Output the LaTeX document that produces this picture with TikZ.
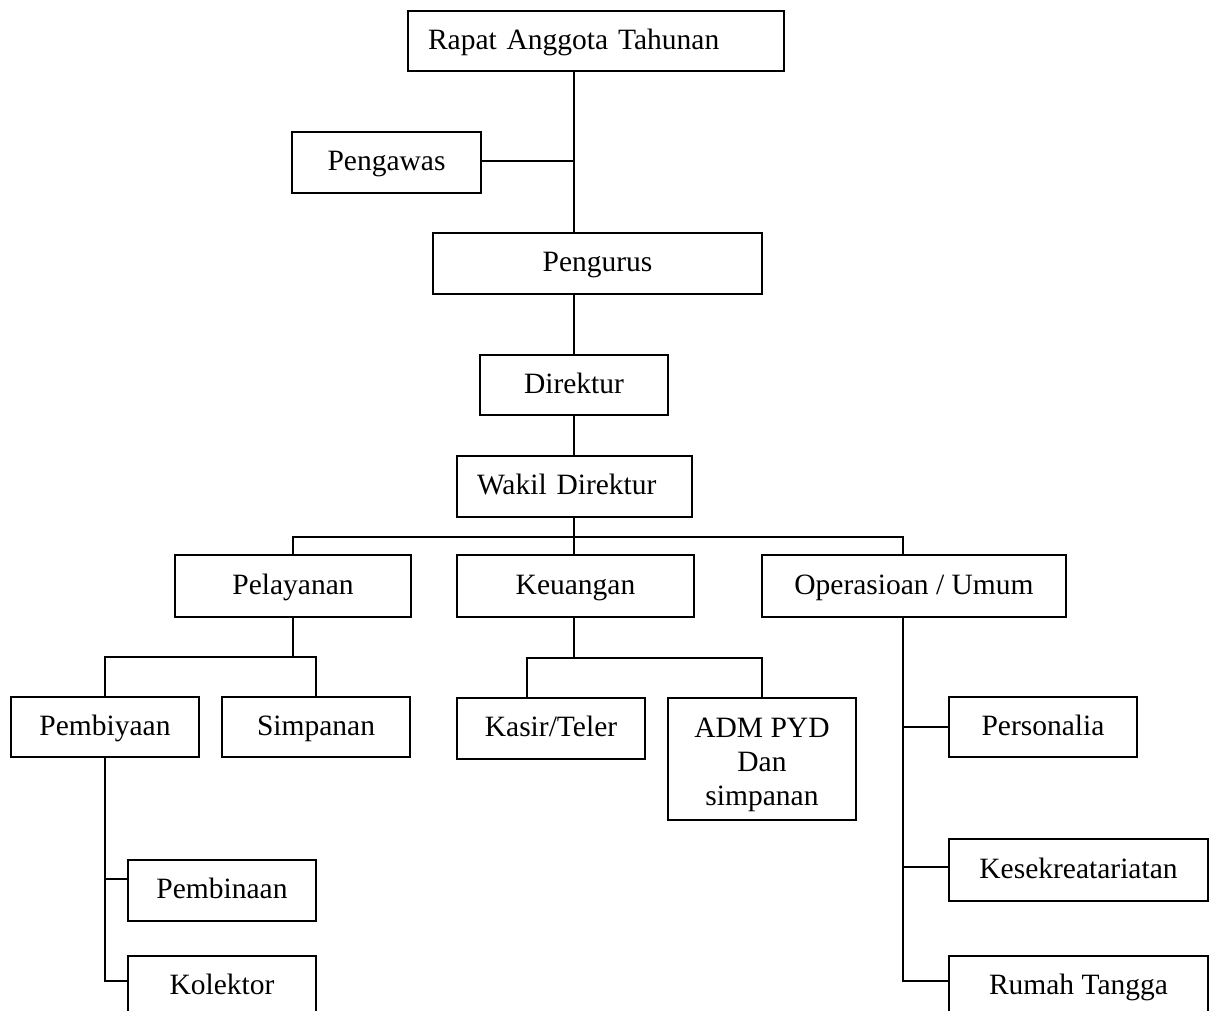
\documentclass[tikz,border=0pt]{standalone}
\usepackage{fontspec}
\setmainfont{Liberation Serif}
\begin{document}
\begin{tikzpicture}[x=1pt,y=1pt,
  mbox/.style={draw, line width=1.3pt, inner sep=0pt, align=center, font=\fontsize{29.5}{34}\selectfont},
  box/.style={mbox, text height=21.5pt, text depth=5pt},
  lbox/.style={box, align=left, inner xsep=20pt, inner ysep=0pt},
  link/.style={line width=1.3pt}]
\useasboundingbox (0,0) rectangle (1210,-1010);
\clip (0,0) rectangle (1210,-1010);

\node[lbox, text width=336pt, minimum height=60pt] (rat) at (596,-41) {Rapat Anggota Tahunan};
\node[box, minimum width=189pt, minimum height=61pt] (pengawas) at (386.5,-162.5) {Pengawas};
\node[box, minimum width=329pt, minimum height=61pt] (pengurus) at (597.5,-263.5) {Pengurus};
\node[box, minimum width=188pt, minimum height=60pt] (direktur) at (574,-385) {Direktur};
\node[lbox, text width=195pt, minimum height=61pt] (wakil) at (574.5,-486.5) {Wakil Direktur};
\node[box, minimum width=236pt, minimum height=62pt] (pelayanan) at (293,-586) {Pelayanan};
\node[box, minimum width=237pt, minimum height=62pt] (keuangan) at (575.5,-586) {Keuangan};
\node[box, minimum width=304pt, minimum height=62pt] (operasi) at (914,-586) {Operasioan / Umum};
\node[box, minimum width=188pt, minimum height=60pt] (pembiayaan) at (105,-727) {Pembiyaan};
\node[box, minimum width=188pt, minimum height=60pt] (simpanan) at (316,-727) {Simpanan};
\node[box, minimum width=188pt, minimum height=61pt] (kasir) at (551,-728.5) {Kasir/Teler};
\node[mbox, minimum width=188pt, minimum height=122pt] (adm) at (762,-759) {\rule{0pt}{31.5pt}ADM PYD\\Dan\\simpanan};
\node[box, minimum width=188pt, minimum height=60pt] (personalia) at (1043,-727) {Personalia};
\node[box, minimum width=188pt, minimum height=61pt] (pembinaan) at (222,-890.5) {Pembinaan};
\node[box, minimum width=188pt, minimum height=61pt] (kolektor) at (222,-986.5) {Kolektor};
\node[box, minimum width=259pt, minimum height=62pt] (kesek) at (1078.5,-870) {Kesekreatariatan};
\node[box, minimum width=259pt, minimum height=61pt] (rumah) at (1078.5,-986.5) {Rumah Tangga};

\coordinate (spine) at (574,0);
\coordinate (opx) at (903,0);
\coordinate (kx) at (527,0);
\coordinate (bus1) at (0,-537);
\coordinate (bus2) at (0,-657);
\coordinate (bus3) at (0,-658);
\coordinate (w1) at (0,-161);
\coordinate (k1) at (903,-867);
\coordinate (r1) at (903,-981);
\coordinate (p1) at (105,-879);
\coordinate (p2) at (105,-981);

\draw[link] (spine |- rat.south) -- (spine |- pengurus.north);
\draw[link] (pengawas.east |- w1) -- (spine |- w1);
\draw[link] (direktur.north) -- (direktur.north |- pengurus.south);
\draw[link] (direktur.south) -- (direktur.south |- wakil.north);
\draw[link] (spine |- wakil.south) -- (spine |- keuangan.north);
\draw[link] (pelayanan.north) -- (pelayanan.north |- bus1) -- (opx |- bus1) -- (opx |- operasi.north);

\draw[link] (pelayanan.south) -- (pelayanan.south |- bus2);
\draw[link] (pembiayaan.north) -- (pembiayaan.north |- bus2) -- (simpanan.north |- bus2) -- (simpanan.north);

\draw[link] (spine |- keuangan.south) -- (spine |- bus3);
\draw[link] (kx |- kasir.north) -- (kx |- bus3) -- (adm.north |- bus3) -- (adm.north);

\draw[link] (opx |- operasi.south) -- (r1) -- (r1 -| rumah.west);
\draw[link] (opx |- personalia.west) -- (personalia.west);
\draw[link] (k1) -- (k1 -| kesek.west);

\draw[link] (pembiayaan.south) -- (p2) -- (p2 -| kolektor.west);
\draw[link] (p1) -- (p1 -| pembinaan.west);
\end{tikzpicture}
\end{document}
